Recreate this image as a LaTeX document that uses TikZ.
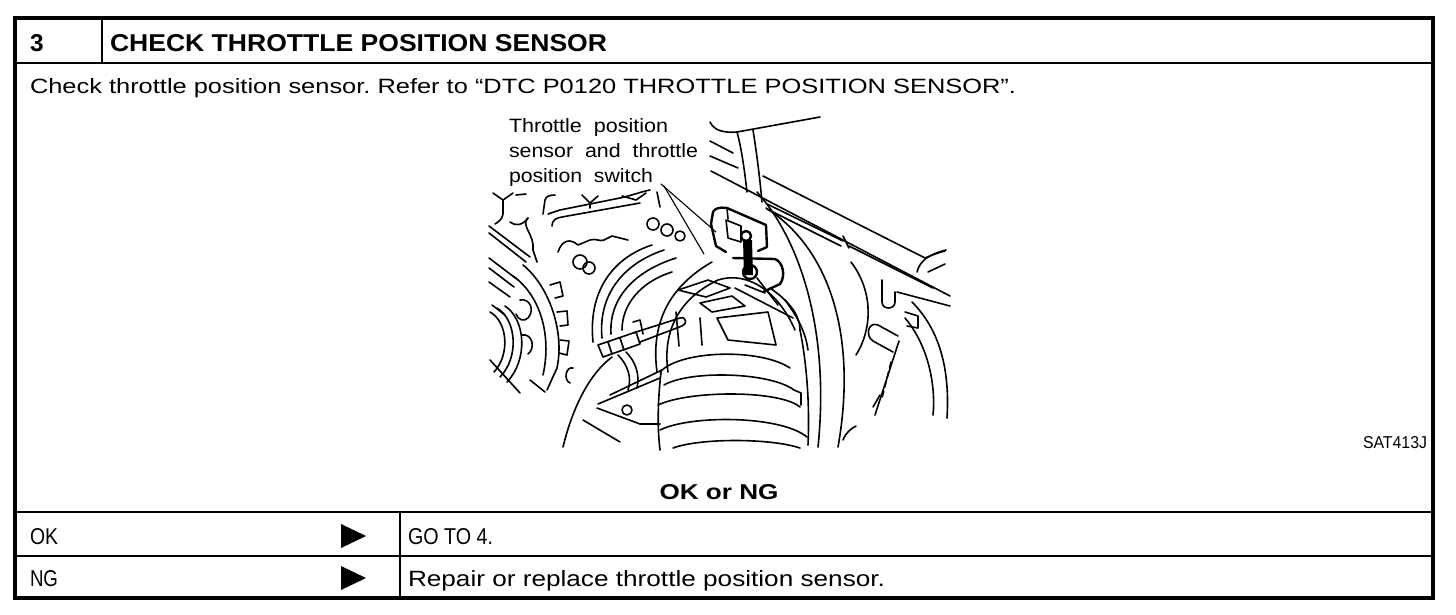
\documentclass[tikz,border=0pt]{standalone}
\usepackage{fontspec}
\setmainfont{Liberation Sans}
\usepackage{graphicx}
\frenchspacing
\begin{document}
\begin{tikzpicture}[x=1pt,y=-1pt,
  frame/.style={line width=3.6pt},
  rule/.style={line width=2pt},
  ill/.style={line width=1.6pt,line cap=round,line join=round},
  heavy/.style={line width=2.4pt,line cap=round,line join=round},
  lead/.style={line width=1.1pt,line cap=round},
  txt/.style={inner sep=0pt,outer sep=0pt,anchor=base west}]
\useasboundingbox (0,0) rectangle (1456,614);
\fill[white] (0,0) rectangle (1456,614);
% ---------- table ----------
\draw[frame] (15,18) rectangle (1433,598);
\draw[rule] (15,63) -- (1433,63);
\draw[rule] (102,18) -- (102,63);
\draw[rule] (15,512) -- (1433,512);
\draw[rule] (15,556) -- (1433,556);
\draw[rule] (400,512) -- (400,598);
% ---------- texts ----------
\node[txt] (num) at (30,51) {\resizebox{!}{17pt}{\bfseries 3}};
\node[txt] (title) at (110,51) {\resizebox{497pt}{17pt}{\bfseries CHECK THROTTLE POSITION SENSOR}};
\node[txt] (body) at (30,93) {\resizebox{986pt}{15pt}{Check throttle position sensor. Refer to “DTC P0120 THROTTLE POSITION SENSOR”.}};
\node[txt] (lab1) at (509,132) {\resizebox{159pt}{14pt}{Throttle\ \ position}};
\node[txt] (lab2) at (509,157) {\resizebox{189pt}{14pt}{sensor\ \ and\ \ throttle}};
\node[txt] (lab3) at (509,182) {\resizebox{144pt}{14pt}{position\ \ switch}};
\node[txt,anchor=base east] (code) at (1427,448) {\resizebox{64pt}{12pt}{SAT413J}};
\node[txt,anchor=base] (okng) at (719,499) {\resizebox{119pt}{15pt}{\bfseries OK or NG}};
\node[txt] (ok) at (30,544) {\resizebox{28pt}{16pt}{OK}};
\node[txt] (ng) at (30,586) {\resizebox{28pt}{16pt}{NG}};
\node[txt] (goto) at (408,544) {\resizebox{85pt}{16pt}{GO TO 4.}};
\node[txt] (repair) at (408,586) {\resizebox{477pt}{16pt}{Repair or replace throttle position sensor.}};
\fill (341,524) -- (366,536) -- (341,548) -- cycle;
\fill (341,566) -- (366,578) -- (341,590) -- cycle;
% ---------- illustration ----------
% leader lines
\draw[lead] (661,184) -- (716,232);
\draw[lead] (664,186) -- (704,254);
% top right
\draw[ill] (710,122) .. controls (714,131) and (725,133) .. (737,132) -- (820,117);
\draw[ill] (737,132) .. controls (742,150) and (745,175) .. (747,192);
\draw[ill] (753,130) .. controls (757,155) and (760,180) .. (762,202);
\draw[ill] (710,141) -- (733,153);
\draw[ill] (710,156) -- (738,168);
\draw[ill] (711,171) -- (950,296);
\draw[ill] (763,176) -- (925,258) .. controls (930,256) and (937,253) .. (945,251);
\draw[ill] (767,204) -- (843,241);
\draw[ill] (767,209) -- (841,246);
\draw[ill] (843,236) -- (849,248);
\draw[ill] (849,246) -- (933,288);
% right joint
\draw[ill] (882,280) -- (882,302) .. controls (882,310) and (895,310) .. (895,302) -- (895,292);
\draw[ill] (897,292) -- (950,306);
\draw[ill] (917,272) .. controls (920,260) and (930,254) .. (946,250);
\draw[ill] (928,272) -- (945,264);
% right hose
\draw[ill] (912,302) .. controls (940,330) and (950,370) .. (947,418);
\draw[ill] (905,318) .. controls (928,345) and (936,385) .. (933,415);
\draw[ill] (905,312) -- (918,316) -- (918,328) -- (907,326);
% slot and rod
\draw[ill] (898,336) -- (878,325) .. controls (868,321) and (865,336) .. (873,341) -- (893,352);
\draw[ill] (899,341) -- (875,415);
\draw[ill,dash pattern=on 6pt off 4pt] (891,362) -- (882,398);
% big arcs
\draw[ill] (757,192) .. controls (800,240) and (830,330) .. (818,447);
\draw[ill] (766,208) .. controls (832,250) and (857,340) .. (838,447);
\draw[ill] (851,262) .. controls (874,292) and (872,330) .. (856,355);
\draw[ill] (843,440) .. controls (846,432) and (852,428) .. (856,426);
\draw[ill] (873,407) -- (880,395);
\draw[ill] (785,300) .. controls (800,320) and (806,335) .. (808,350);
% connector
\draw[heavy] (711,224) -- (713,212) .. controls (715,208) and (720,207) .. (727,208) -- (766,225) -- (767,247) -- (758,251);
\draw[heavy] (711,224) -- (716,246) -- (726,252);
\draw[ill] (727,208) -- (728,219);
\draw[ill] (726,220) -- (741,226) -- (741,242) -- (728,238) -- cycle;
\draw[heavy] (746,236) circle (5);
\fill (743,240) -- (752,240) -- (753,275) -- (744,275) -- cycle;
\draw[heavy] (750,272) circle (7);
\draw[heavy] (733,258) -- (775,259) .. controls (783,262) and (786,276) .. (780,284) -- (763,292);
\draw[ill] (745,285) -- (765,293);
\draw[ill] (757,278) -- (778,305);
% duct top
\draw[ill] (657,372) .. controls (650,320) and (672,285) .. (712,262);
\draw[ill] (770,288) .. controls (795,305) and (800,320) .. (800,330);
\draw[ill] (668,372) .. controls (662,330) and (680,298) .. (718,280) .. controls (750,270) and (780,295) .. (795,330);
\draw[ill] (678,290) -- (708,280) -- (730,288) -- (706,297) -- cycle;
\draw[ill] (700,303) -- (732,296) -- (745,306) -- (712,312) -- cycle;
\draw[ill] (717,318) -- (768,312) -- (776,345) -- (728,340) -- cycle;
\draw[ill] (735,288) -- (793,318);
\draw[ill] (676,312) -- (679,346);
\draw[ill] (700,318) -- (702,345);
\draw[ill] (633,333) -- (680,318) .. controls (686,316) and (688,324) .. (682,326) -- (640,342);
% left arcs of throttle body
\draw[ill] (593,342) .. controls (588,292) and (612,258) .. (652,245);
\draw[ill] (602,338) .. controls (598,296) and (622,264) .. (664,250);
\draw[ill] (611,334) .. controls (609,300) and (632,272) .. (676,258);
\draw[ill] (622,330) .. controls (622,305) and (640,282) .. (672,272);
% bolts
\draw[ill] (653,224) circle (6);
\draw[ill] (667,230) circle (6);
\draw[ill] (680,236) circle (5);
\draw[ill] (580,262) circle (7);
\draw[ill] (589,268) circle (6);
% bracket lines
\draw[ill] (548,214) -- (560,210) -- (620,198) .. controls (630,196) and (640,192) .. (650,190);
\draw[ill] (552,226) .. controls (552,220) and (556,218) .. (562,217) -- (640,203);
\draw[ill] (558,252) .. controls (562,240) and (570,238) .. (578,245) -- (590,240) .. controls (596,238) and (600,242) .. (604,240) -- (612,236) -- (628,240);
\draw[ill] (528,218) .. controls (520,225) and (535,235) .. (533,250) -- (537,262);
% top marks
\draw[ill] (493,193) -- (503,200) -- (513,193);
\draw[ill] (503,200) -- (503,214) .. controls (502,220) and (498,222) .. (495,224);
\draw[ill] (516,195) -- (526,194);
\draw[ill] (543,214) -- (545,200) .. controls (546,196) and (550,195) .. (555,195);
\draw[ill] (582,195) -- (590,203) -- (598,196);
\draw[ill] (590,203) -- (590,208);
\draw[ill] (622,196) -- (636,200) -- (646,193);
\draw[ill] (657,192) -- (660,207);
\draw[ill] (510,222) .. controls (515,226) and (522,226) .. (528,218);
% left diagonals
\draw[ill] (489,226) -- (530,257);
\draw[ill] (489,233) -- (526,262);
\draw[ill] (489,258) -- (518,280);
\draw[ill] (489,268) -- (514,287);
\draw[ill] (489,282) -- (510,297);
\draw[ill] (492,305) -- (505,315);
% pulley
\draw[ill] (523,265) .. controls (548,285) and (565,330) .. (557,368) -- (547,390);
\draw[ill] (513,276) .. controls (540,295) and (552,335) .. (543,375);
\draw[ill] (550,285) -- (560,282) -- (563,296) -- (555,298);
\draw[ill] (557,312) -- (567,311) -- (568,325) -- (560,326);
\draw[ill] (560,340) -- (569,341) -- (567,355) -- (559,353);
\draw[ill] (520,300) .. controls (530,298) and (535,310) .. (528,318) .. controls (524,322) and (518,320) .. (516,314);
\draw[ill] (522,335) .. controls (532,333) and (536,348) .. (528,354);
\draw[ill] (573,368) .. controls (566,366) and (563,380) .. (570,383);
% left nut
\draw[ill] (490,312) .. controls (508,322) and (510,355) .. (494,372);
\draw[ill] (497,308) .. controls (517,320) and (519,358) .. (500,377);
\draw[ill] (505,306) .. controls (526,320) and (528,360) .. (507,382);
\draw[ill] (490,360) -- (520,393);
\draw[ill] (530,380) -- (545,392);
% hose clamp
\draw[ill] (598,345) -- (636,332) -- (640,344) -- (603,357) -- cycle;
\draw[ill] (608,342) -- (612,354);
\draw[ill] (620,338) -- (624,350);
\draw[ill] (633,322) -- (640,320) -- (643,334);
% left hose
\draw[ill] (612,357) .. controls (588,375) and (572,410) .. (563,447);
\draw[ill] (618,355) .. controls (628,365) and (632,378) .. (628,390);
\draw[ill] (626,352) .. controls (636,362) and (640,375) .. (637,388);
% lower left
\draw[ill] (583,420) -- (620,442);
\draw[ill] (598,404) -- (660,378);
\draw[ill] (610,395) -- (662,370);
\draw[ill] (597,408) -- (640,424) -- (660,424);
\draw[ill] (627,410) circle (5);
% bellows
\draw[ill] (661,372) .. controls (658,400) and (657,425) .. (660,450);
\draw[ill] (800,330) .. controls (806,360) and (810,400) .. (808,445);
\draw[ill] (660,372) .. controls (680,350) and (760,348) .. (790,368);
\draw[ill] (664,385) .. controls (690,370) and (770,372) .. (794,390);
\draw[ill] (658,405) .. controls (690,390) and (780,390) .. (800,407);
\draw[ill] (660,430) .. controls (690,415) and (780,415) .. (807,437);
\draw[ill] (673,448) .. controls (700,438) and (770,438) .. (800,448);
\draw[ill] (794,390) -- (801,393) -- (801,405);
\end{tikzpicture}
\end{document}
